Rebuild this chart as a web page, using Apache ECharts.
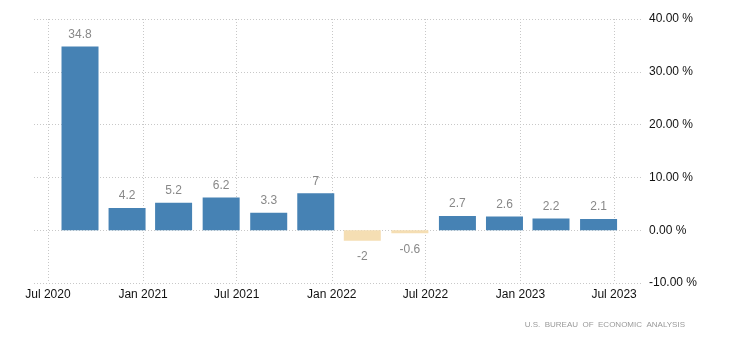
<!DOCTYPE html>
<html><head><meta charset="utf-8">
<script src="https://cdn.jsdelivr.net/npm/echarts@6/dist/echarts.min.js"></script>
<style>html,body{margin:0;padding:0;background:#fff}#c{width:730px;height:350px}</style>
</head><body><div id="c"></div>
<script>
const quarters = ['2020-09-01','2020-12-01','2021-03-01','2021-06-01','2021-09-01','2021-12-01','2022-03-01','2022-06-01','2022-09-01','2022-12-01','2023-03-01','2023-06-01'];
const values = [34.8, 4.2, 5.2, 6.2, 3.3, 7, -2, -0.6, 2.7, 2.6, 2.2, 2.1];
const xTickDates = ['2020-07-01','2021-01-01','2021-07-01','2022-01-01','2022-07-01','2023-01-01','2023-07-01'];
const xTickLabels = ['Jul 2020','Jan 2021','Jul 2021','Jan 2022','Jul 2022','Jan 2023','Jul 2023'];
const xRange = ['2020-06-04','2023-08-24'];
const yRange = [-10, 40];
const yStep = 10;
const sourceText = 'U.S.  BUREAU  OF  ECONOMIC  ANALYSIS';

// day index (days since 1970-01-01, UTC) keeps the axis free of timezone effects
function toDay(s){const p=s.split('-').map(Number);return Math.round(Date.UTC(p[0],p[1]-1,p[2])/86400000);}
const tickDays = xTickDates.map(toDay);
const grid = {left:34,right:88,top:19,bottom:67};
const dotted = {type:[1,2],color:'#c8c8c8',width:1};

const chart = echarts.init(document.getElementById('c'), null, {renderer:'canvas'});
chart.setOption({
  animation:false,
  backgroundColor:'#fff',
  textStyle:{fontFamily:'Liberation Sans, Arial, sans-serif'},
  grid: grid,
  xAxis:{
    type:'value',
    min: toDay(xRange[0]), max: toDay(xRange[1]),
    axisLine:{show:false},
    axisTick:{show:false, customValues: tickDays},
    axisLabel:{customValues: tickDays, color:'#111', fontSize:12, margin:6,
      formatter: v => { const i = tickDays.indexOf(Math.round(v)); return i>=0 ? xTickLabels[i] : ''; }},
    splitLine:{show:true, lineStyle:dotted}
  },
  yAxis:{
    type:'value', position:'right',
    min:yRange[0], max:yRange[1], interval:yStep,
    axisLine:{show:false}, axisTick:{show:false},
    axisLabel:{color:'#111', fontSize:12, margin:7, formatter: v => v.toFixed(2)+' %'},
    splitLine:{show:true, lineStyle:dotted}
  },
  series:[{
    type:'bar',
    barWidth:37,
    data: quarters.map((d,i)=>({
      value:[toDay(d), values[i]],
      itemStyle:{color: values[i] < 0 ? '#f5deb3' : '#4682b4'},
      label:{position: values[i] < 0 ? 'bottom' : 'top', distance: values[i] < 0 ? 10 : 6}
    })),
    label:{show:true, color:'#888', fontSize:12, formatter: p => String(p.value[1])}
  }],
  graphic:[{
    type:'text', right:45, top:321,
    style:{text: sourceText, fill:'#999', font:'8px Liberation Sans, Arial, sans-serif'}
  }]
});
</script></body></html>
